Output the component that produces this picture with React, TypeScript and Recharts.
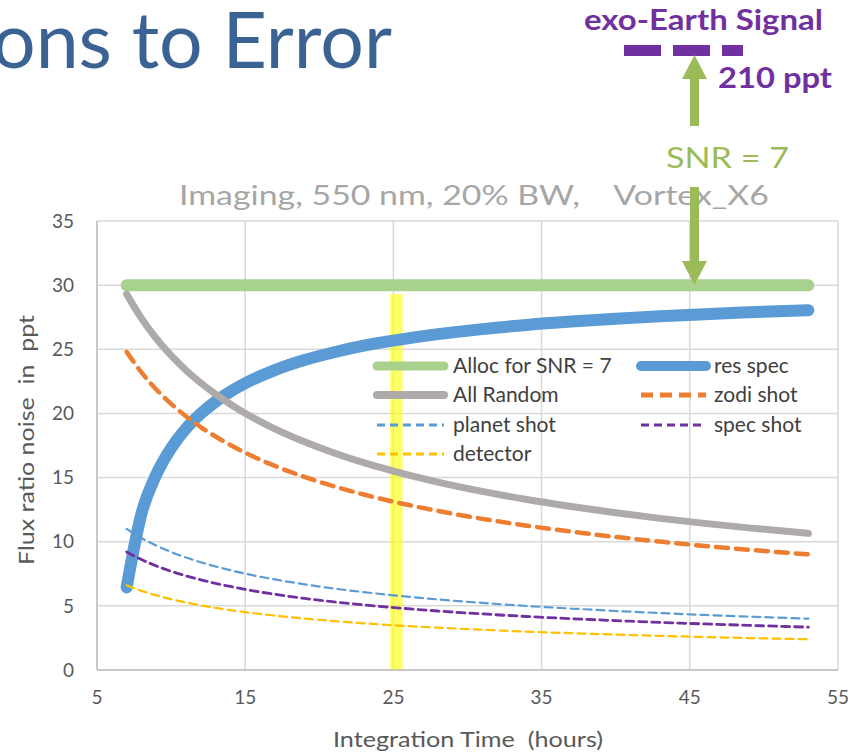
import { LineChart, Line, XAxis, YAxis, CartesianGrid, ReferenceArea } from "recharts"

// integration time in hours
const time = [7, 8, 9, 10, 11, 12, 13, 14, 15, 17, 19, 21, 23, 25, 28, 31, 34, 37, 40, 43, 46, 49, 53]

// flux ratio noise (ppt)
const allocSnr7 = [30, 30, 30, 30, 30, 30, 30, 30, 30, 30, 30, 30, 30, 30, 30, 30, 30, 30, 30, 30, 30, 30, 30]
const resSpec = [6.44, 12.19, 15.24, 17.29, 18.81, 19.98, 20.92, 21.7, 22.35, 23.38, 24.16, 24.77, 25.28, 25.68, 26.18, 26.57, 26.9, 27.16, 27.38, 27.57, 27.74, 27.88, 28.05]
const allRandom = [29.3, 27.41, 25.84, 24.52, 23.37, 22.38, 21.5, 20.72, 20.01, 18.8, 17.79, 16.92, 16.16, 15.51, 14.65, 13.92, 13.29, 12.75, 12.26, 11.82, 11.43, 11.08, 10.65]
const zodiShot = [24.8, 23.2, 21.87, 20.75, 19.78, 18.94, 18.2, 17.54, 16.94, 15.91, 15.05, 14.32, 13.68, 13.12, 12.4, 11.78, 11.25, 10.79, 10.37, 10.01, 9.67, 9.37, 9.01]
const planetShot = [11.0, 10.29, 9.7, 9.2, 8.77, 8.4, 8.07, 7.78, 7.51, 7.06, 6.68, 6.35, 6.07, 5.82, 5.5, 5.23, 4.99, 4.79, 4.6, 4.44, 4.29, 4.16, 4.0]
const specShot = [9.2, 8.61, 8.11, 7.7, 7.34, 7.03, 6.75, 6.51, 6.28, 5.9, 5.58, 5.31, 5.08, 4.87, 4.6, 4.37, 4.17, 4.0, 3.85, 3.71, 3.59, 3.48, 3.34]
const detector = [6.6, 6.17, 5.82, 5.52, 5.26, 5.04, 4.84, 4.67, 4.51, 4.24, 4.01, 3.81, 3.64, 3.49, 3.3, 3.14, 2.99, 2.87, 2.76, 2.66, 2.57, 2.49, 2.4]

const xTicks = [5, 15, 25, 35, 45, 55]
const yTicks = [0, 5, 10, 15, 20, 25, 30, 35]

// highlighted integration time (yellow bar)
const markerTime = 25.2
const markerTop = 29.3

const data = time.map((t, i) => ({
  t,
  alloc: allocSnr7[i],
  resSpec: resSpec[i],
  allRandom: allRandom[i],
  zodi: zodiShot[i],
  planet: planetShot[i],
  spec: specShot[i],
  detector: detector[i],
}))

const series = [
  { key: "alloc", name: "Alloc for SNR = 7", color: "#a9d18e", width: 12, dash: undefined, lw: 9, ld: undefined },
  { key: "resSpec", name: "res spec", color: "#5b9bd5", width: 12, dash: undefined, lw: 10, ld: undefined },
  { key: "allRandom", name: "All Random", color: "#aeaaaa", width: 7, dash: undefined, lw: 8, ld: undefined },
  { key: "zodi", name: "zodi shot", color: "#ed7d31", width: 4.5, dash: "12 8", lw: 5, ld: "12 7" },
  { key: "planet", name: "planet shot", color: "#5b9bd5", width: 2.2, dash: "8 5", lw: 3, ld: "8 5" },
  { key: "spec", name: "spec shot", color: "#7030a0", width: 2.8, dash: "8 5", lw: 3, ld: "8 5" },
  { key: "detector", name: "detector", color: "#ffc000", width: 2.2, dash: "8 5", lw: 3, ld: "8 5" },
]

const font = "Lato, 'Open Sans', sans-serif"
const rowY = [366, 395, 425, 454]

function LegendBlock() {
  return (
    <g fontFamily={font} fontSize={21} fill="#404040">
      {series.map((s, i) => {
        const col = i % 2
        const y = rowY[Math.floor(i / 2)]
        const x0 = col ? 641 : 377
        const x1 = col ? 706 : 444
        const tx = col ? 714 : 453
        return (
          <g key={s.key}>
            <line x1={x0} x2={x1} y1={y} y2={y} stroke={s.color} strokeWidth={s.lw}
              strokeDasharray={s.ld} strokeLinecap={s.ld ? "butt" : "round"} />
            <text x={tx} y={y + 7}>{s.name}</text>
          </g>
        )
      })}
    </g>
  )
}

export default function App() {
  return (
    <div style={{ position: "absolute", left: 0, top: 0, width: 856, height: 756, background: "#fff", overflow: "hidden" }}>
      <LineChart width={856} height={756} data={data} margin={{ top: 221, right: 18, bottom: 0, left: 0 }}>
        <CartesianGrid stroke="#d9d9d9" strokeWidth={1.5} />
        <XAxis dataKey="t" type="number" domain={[5, 55]} ticks={xTicks} height={86}
          tickLine={false} tickSize={0} tickMargin={21} axisLine={{ stroke: "#bfbfbf", strokeWidth: 1.5 }}
          tick={{ fill: "#595959", fontSize: 19, fontFamily: font }} />
        <YAxis type="number" domain={[0, 35]} ticks={yTicks} width={97}
          tickLine={false} tickSize={0} tickMargin={23} axisLine={{ stroke: "#bfbfbf", strokeWidth: 1.5 }}
          tick={{ fill: "#595959", fontSize: 19, fontFamily: font }} />
        {series.map((s) => (
          <Line key={s.key} dataKey={s.key} name={s.name} type="monotone" stroke={s.color}
            strokeWidth={s.width} strokeDasharray={s.dash} strokeLinecap="round"
            dot={false} activeDot={false} isAnimationActive={false} />
        ))}
        <ReferenceArea x1={markerTime - 0.42} x2={markerTime + 0.42} y1={0} y2={markerTop}
          fill="#ffff00" fillOpacity={0.6} stroke="none" />
      </LineChart>

      <svg width={856} height={756} style={{ position: "absolute", left: 0, top: 0, pointerEvents: "none" }}>
        <LegendBlock />

        <text x={-8} y={68} fontFamily={font} fontSize={78} fill="#3a6394"
          textLength={400} lengthAdjust="spacingAndGlyphs">ons to Error</text>

        <text x={179} y={205} fontFamily={font} fontSize={26} fill="#a6a6a6"
          textLength={590} lengthAdjust="spacingAndGlyphs" xmlSpace="preserve">Imaging, 550 nm, 20% BW,    Vortex_X6</text>

        <text x={28} y={440} transform="rotate(-90 28 440)" textAnchor="middle" dominantBaseline="middle"
          fontFamily={font} fontSize={22} fill="#595959" xmlSpace="preserve"
          textLength={250} lengthAdjust="spacingAndGlyphs">Flux ratio noise  in  ppt</text>
        <text x={468} y={741} textAnchor="middle" dominantBaseline="middle"
          fontFamily={font} fontSize={22} fill="#595959" xmlSpace="preserve"
          textLength={270} lengthAdjust="spacingAndGlyphs">Integration Time  (hours)</text>

        <text x={584} y={30} fontFamily={font} fontSize={28} fontWeight={700} fill="#7030a0"
          textLength={239} lengthAdjust="spacingAndGlyphs">exo-Earth Signal</text>
        <rect x={624} y={45} width={37} height={11} fill="#7030a0" />
        <rect x={673} y={45} width={37} height={11} fill="#7030a0" />
        <rect x={722} y={45} width={21} height={11} fill="#7030a0" />
        <text x={718} y={88} fontFamily={font} fontSize={29} fontWeight={700} fill="#7030a0"
          textLength={114} lengthAdjust="spacingAndGlyphs">210 ppt</text>

        <rect x={690} y={76} width={9} height={50} fill="#9bbb59" />
        <polygon points="694.5,55 682,79 707,79" fill="#9bbb59" />

        <text x={666} y={168} fontFamily={font} fontSize={29} fill="#9bbb59"
          textLength={123} lengthAdjust="spacingAndGlyphs">SNR = 7</text>

        <rect x={690} y={187} width={9} height={77} fill="#9bbb59" />
        <polygon points="694.5,285 682,261 707,261" fill="#9bbb59" />
      </svg>
    </div>
  )
}
